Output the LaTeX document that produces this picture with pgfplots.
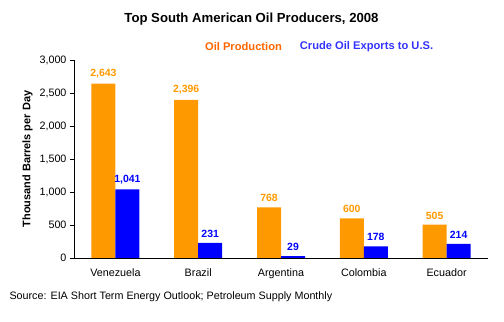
\documentclass[border=0pt]{standalone}
\usepackage{pgfplots}
\pgfplotsset{compat=1.18}
\usepackage{fontspec}
\setmainfont{Liberation Sans}
\definecolor{oilor}{RGB}{255,153,0}
\definecolor{oilblue}{RGB}{0,0,255}
\definecolor{legor}{RGB}{255,102,0}
\definecolor{legblue}{RGB}{51,51,255}
\begin{document}
\begin{tikzpicture}
\path[use as bounding box] (0,0) rectangle (504bp,322bp);
\begin{axis}[
  at={(74bp,64bp)}, anchor=south west,
  scale only axis, width=414bp, height=198bp,
  xmin=-0.5, xmax=4.5, ymin=0, ymax=3000,
  ybar=0pt, bar width=24bp,
  axis x line*=bottom, axis y line*=left,
  axis line style={black, line width=0.8pt},
  xtick=data, xticklabels={Venezuela,Brazil,Argentina,Colombia,Ecuador},
  xtick style={draw=none},
  ytick={0,500,1000,1500,2000,2500,3000},
  tick align=outside, major tick length=4bp, ytick style={black},
  /pgf/number format/1000 sep={,},
  /pgf/number format/assume math mode=true,
  ticklabel style={font=\fontsize{10.8}{12}\selectfont},
  xticklabel style={yshift=-3bp},
  ylabel={\textbf{Thousand Barrels per Day}},
  ylabel style={font=\fontsize{11}{12}\selectfont, yshift=0bp},
  nodes near coords,
  nodes near coords style={font=\fontsize{10.5}{12}\selectfont\bfseries, yshift=2bp},
  every axis plot/.append style={draw=none},
]
\addplot[fill=oilor, nodes near coords style={text=oilor}] coordinates {(0,2643) (1,2396) (2,768) (3,600) (4,505)};
\addplot[fill=oilblue, nodes near coords style={text=oilblue}] coordinates {(0,1041) (1,231) (2,29) (3,178) (4,214)};
\end{axis}
\node[font=\fontsize{13.2}{15}\selectfont\bfseries] at (251.5bp,303bp) {Top South American Oil Producers, 2008};
\node[font=\fontsize{11.2}{13}\selectfont\bfseries, text=legor] at (243.5bp,275bp) {Oil Production};
\node[font=\fontsize{11.2}{13}\selectfont\bfseries, text=legblue] at (366.5bp,275bp) {Crude Oil Exports to U.S.};
\node[font=\fontsize{10.8}{12}\selectfont, anchor=west] at (6bp,25bp) {Source: EIA Short Term Energy Outlook; Petroleum Supply Monthly};
\end{tikzpicture}
\end{document}
